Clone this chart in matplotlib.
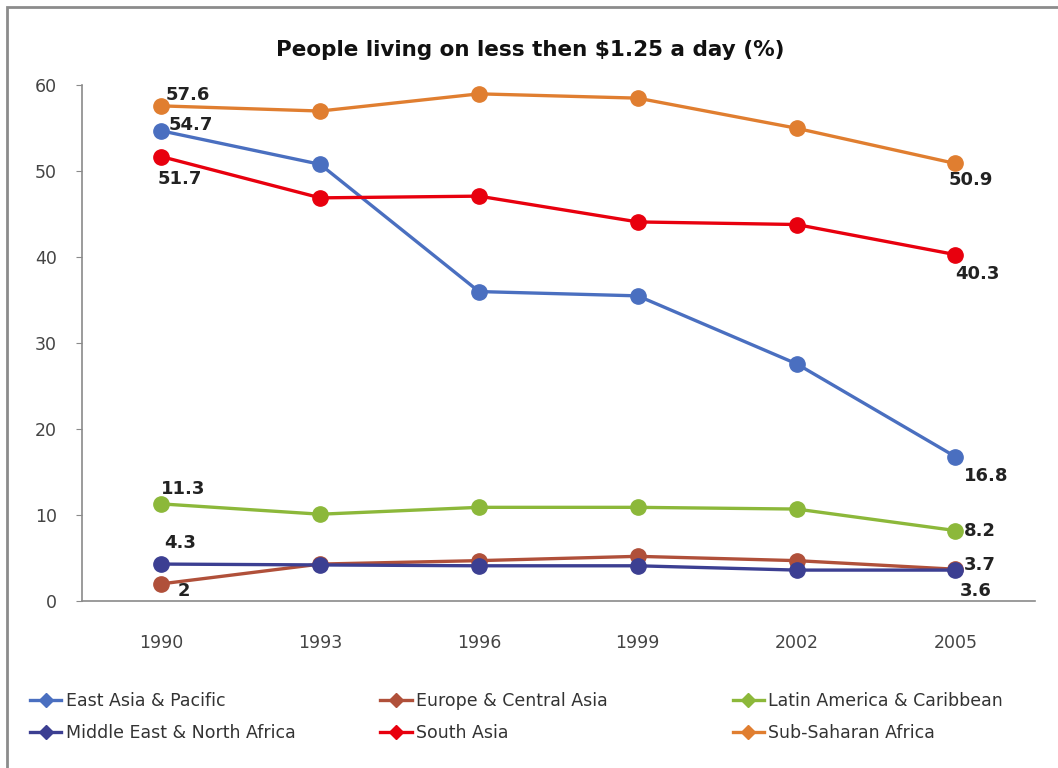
import numpy as np
import matplotlib.pyplot as plt
from matplotlib.lines import Line2D
from matplotlib.patches import Rectangle

years = ["1990", "1993", "1996", "1999", "2002", "2005"]

east_asia = [54.7, 50.8, 36.0, 35.5, 27.6, 16.8]
europe_ca = [2.0, 4.3, 4.7, 5.2, 4.7, 3.7]
latin_am = [11.3, 10.1, 10.9, 10.9, 10.7, 8.2]
mid_east = [4.3, 4.2, 4.1, 4.1, 3.6, 3.6]
south_asia = [51.7, 46.9, 47.1, 44.1, 43.8, 40.3]
sub_sahara = [57.6, 57.0, 59.0, 58.5, 55.0, 50.9]

names = ["East Asia & Pacific", "Europe & Central Asia", "Latin America & Caribbean",
         "Middle East & North Africa", "South Asia", "Sub-Saharan Africa"]
colors = ["#4a6fc0", "#b0503a", "#8cb83a", "#3c3f92", "#e8000e", "#e07e30"]
series = [east_asia, europe_ca, latin_am, mid_east, south_asia, sub_sahara]

fig = plt.figure(figsize=(10.58, 7.68), dpi=100)
ax = fig.add_axes([0.0775, 0.2174, 0.9005, 0.6716])

x = np.arange(len(years))
for name, vals, c in zip(names, series, colors):
    ax.plot(x, vals, color=c, lw=2.4, marker="o", ms=11, zorder=3)

ax.set_xlim(-0.5, 5.5)
ax.set_ylim(0, 60)
ax.set_yticks(range(0, 61, 10))
ax.set_xticks(x)
ax.set_xticklabels(years)
for s in ["top", "right"]:
    ax.spines[s].set_visible(False)
for s in ["left", "bottom"]:
    ax.spines[s].set_color("#8a8a8a")
    ax.spines[s].set_linewidth(1.2)
ax.tick_params(axis="y", length=4, color="#8a8a8a", pad=14, labelsize=12.5, labelcolor="#444444")
ax.tick_params(axis="x", length=0, pad=24, labelsize=12.5, labelcolor="#444444")

ax.set_title("People living on less then \\$1.25 a day (%)", fontsize=15.5, fontweight="bold",
             pad=21, color="#111111", x=0.471)

# value labels at the ends of each series: (series, index, dx, dy) in points
lab_kw = dict(textcoords="offset points", fontsize=13, fontweight="bold", color="#222222",
              va="center", ha="left")
ends = [
    (sub_sahara, 0, 3, 8),
    (east_asia, 0, 5, 4),
    (south_asia, 0, -3, -16),
    (sub_sahara, 5, -5, -12),
    (south_asia, 5, 0, -14),
    (east_asia, 5, 6, -14),
    (latin_am, 5, 6, 0),
    (europe_ca, 5, 6, 3),
    (mid_east, 5, 3, -15),
    (latin_am, 0, 0, 11),
    (mid_east, 0, 2, 15),
    (europe_ca, 0, 12, -5),
]
for vals, i, dx, dy in ends:
    v = vals[i]
    ax.annotate(f"{v:g}", (x[i], v), xytext=(dx, dy), zorder=5, **lab_kw)

# legend in three columns placed by hand
leg_cols = [
    (["East Asia & Pacific", "Middle East & North Africa"], 0.022),
    (["Europe & Central Asia", "South Asia"], 0.353),
    (["Latin America & Caribbean", "Sub-Saharan Africa"], 0.686),
]
for col_names, xpos in leg_cols:
    handles = [Line2D([], [], color=colors[names.index(n)], lw=2.4, marker="D", ms=7)
               for n in col_names]
    fig.legend(handles, col_names, loc="upper left", bbox_to_anchor=(xpos, 0.108),
               frameon=False, fontsize=12.5, handlelength=1.8, handletextpad=0.25,
               labelspacing=0.8, borderaxespad=0, labelcolor="#333333")

# outer frame, right and bottom edges run off the image
fig.patches.append(Rectangle((7 / 1058, -0.1), 1.2, 0.1 + 1 - 7 / 768,
                             transform=fig.transFigure, fill=False,
                             edgecolor="#8c8c8c", lw=2))

fig.savefig("out.png", dpi=100)
